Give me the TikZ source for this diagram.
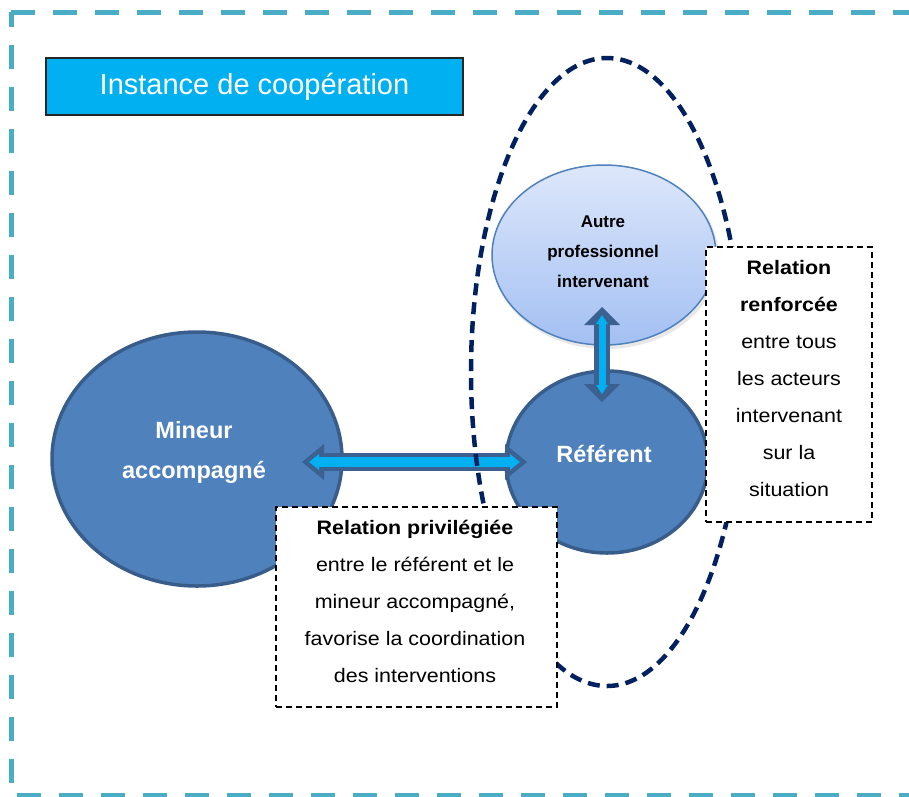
\documentclass[tikz,border=0pt]{standalone}
\usepackage{fontspec}
\setmainfont{Liberation Sans}
\newfontfamily\boxfont{Liberation Sans}[FakeStretch=1.1]
\usetikzlibrary{shapes.geometric,arrows.meta}
\definecolor{framecol}{HTML}{4BACC6}
\definecolor{titlefill}{HTML}{00B0F0}
\definecolor{navy}{HTML}{002060}
\definecolor{nodeblue}{HTML}{4F81BD}
\definecolor{nodeedge}{HTML}{385D8A}
\definecolor{lighttop}{HTML}{DDE7FA}
\definecolor{lightbot}{HTML}{A3C0F3}
\definecolor{arrdark}{HTML}{3C6090}
\definecolor{arrcyan}{HTML}{00B0F0}
\begin{document}
\begin{tikzpicture}[x=1pt,y=-1pt,
  framestyle/.style={draw=framecol,line width=5pt,dash pattern=on 24pt off 18pt},
  bigblob/.style={ellipse,draw=nodeedge,fill=nodeblue,line width=3.5pt,inner sep=0pt},
  blobtext/.style={text=white,align=center,inner sep=0pt,font=\fontsize{23.5}{40}\selectfont\bfseries},
  lightblob/.style={ellipse,draw=nodeblue,line width=1.5pt,top color=lighttop,bottom color=lightbot,inner sep=0pt},
  lighttext/.style={text=black,align=center,inner sep=0pt,font=\fontsize{17}{30}\selectfont\bfseries},
  notebox/.style={draw=black,fill=white,line width=2pt,dash pattern=on 6pt off 4pt,inner sep=0pt},
  notetext/.style={align=center,inner sep=0pt,font=\boxfont\fontsize{19.5}{37}\selectfont},
  groupring/.style={ellipse,draw=navy,line width=4.5pt,dash pattern=on 12pt off 7pt,inner sep=0pt},
  outerarrow/.style={draw=arrdark,line width=#1},
  innerarrow/.style={draw=arrcyan,line width=#1}
]
\useasboundingbox (0,0) rectangle (909,796);
\clip (0,0) rectangle (909,796);
\fill[white] (0,0) rectangle (909,796);

% outer frame
\draw[framestyle] (11,12) -- (915,12);
\draw[framestyle,dash phase=9pt] (11,12) -- (11,800);
\draw[framestyle,dash phase=36pt] (11,795.5) -- (915,795.5);

% title
\node[draw=black!85,line width=1.2pt,fill=titlefill,minimum width=417pt,minimum height=57pt,inner sep=0pt,
      text=white,font=\fontsize{29}{34}\selectfont] (title) at (254.5,86.5) {Instance de coopération};

% main blobs
\node[bigblob,minimum width=290pt,minimum height=254pt] (mineur) at (197,459) {};
\node[blobtext] (mineurtxt) at (194,452.5) {Mineur\\accompagné};
\node[bigblob,minimum width=202pt,minimum height=182pt] (referent) at (607,462) {};
\node[blobtext] (referenttxt) at (604,454) {Référent};

% horizontal arrow
\coordinate (hL) at (302,462);
\coordinate (hR) at (527,462);
\coordinate (hLi) at (309,462);
\coordinate (hRi) at (520,462);
\draw[outerarrow=18pt,{Triangle[width=36pt,length=22pt,line width=0pt]}-{Triangle[width=36pt,length=22pt,line width=0pt]}] (hL) -- (hR);
\draw[innerarrow=10pt,{Triangle[width=16pt,length=10pt,line width=0pt]}-{Triangle[width=16pt,length=10pt,line width=0pt]}] (hLi) -- (hRi);

% dashed group ellipse
\node[groupring,minimum width=272pt,minimum height=628pt] (group) at (607,372) {};

% other professional
\node[ellipse,fill=black!9,minimum width=226pt,minimum height=182pt,inner sep=0pt] (autreshadow) at (606,258) {};
\node[lightblob,minimum width=224pt,minimum height=180pt] (autre) at (604,255) {};
\node[lighttext] (autretxt) at (603,252) {Autre\\professionnel\\intervenant};

% vertical arrow
\coordinate (vT) at (602,307);
\coordinate (vB) at (602,402);
\coordinate (vTi) at (602,315);
\coordinate (vBi) at (602,394);
\draw[outerarrow=16pt,{Triangle[width=36pt,length=18pt,line width=0pt]}-{Triangle[width=36pt,length=18pt,line width=0pt]}] (vT) -- (vB);
\draw[innerarrow=7pt,{Triangle[width=12pt,length=9pt,line width=0pt]}-{Triangle[width=12pt,length=9pt,line width=0pt]}] (vTi) -- (vBi);

% note boxes
\node[notebox,minimum width=281pt,minimum height=200pt] (boxpriv) at (416.5,607) {};
\node[notetext] (boxprivtxt) at (415,601) {\textbf{Relation privilégiée}\\entre le référent et le\\mineur accompagné,\\favorise la coordination\\des interventions};
\node[notebox,minimum width=166pt,minimum height=275pt] (boxrenf) at (789,384.5) {};
\node[notetext] (boxrenftxt) at (789,378.5) {\textbf{Relation}\\\textbf{renforcée}\\entre tous\\les acteurs\\intervenant\\sur la\\situation};
\end{tikzpicture}
\end{document}
